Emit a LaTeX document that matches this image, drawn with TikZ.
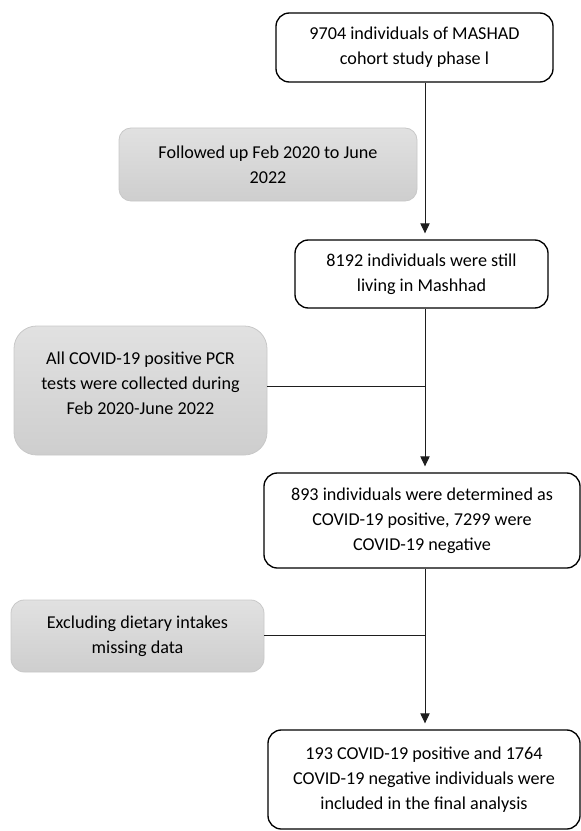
\documentclass[tikz,border=0pt]{standalone}
\usepackage{fontspec}
\setmainfont{Carlito}
\usetikzlibrary{arrows.meta}

\tikzset{every picture/.style={line width=0.75pt}}
\tikzset{
  whitebox/.style={draw=black, line width=1pt, fill=white, rounded corners=10, align=center, inner sep=0pt},
  greybox/.style={draw={rgb, 255:red, 200; green, 200; blue, 200}, line width=0.6pt, rounded corners=10, align=center, inner sep=0pt,
    top color={rgb, 255:red, 225; green, 225; blue, 225}, bottom color={rgb, 255:red, 206; green, 206; blue, 206}},
  flowarrow/.style={draw={rgb, 255:red, 30; green, 30; blue, 30}, line width=0.75pt, -{Triangle[width=7pt,length=7.5pt]}, shorten >=4.5pt},
  joinline/.style={draw={rgb, 255:red, 30; green, 30; blue, 30}, line width=0.75pt}
}

\begin{document}
\begin{tikzpicture}[x=0.75pt,y=0.75pt,yscale=-1,xscale=1]
\useasboundingbox (0,0) rectangle (581,831);
\fontsize{13.6}{18.75}\selectfont

%Main boxes
\node [whitebox, minimum width=277*0.75pt, minimum height=69*0.75pt] (cohort) at (414.5,47.5) {9704 individuals of MASHAD\\cohort study phase l};
\node [whitebox, minimum width=253*0.75pt, minimum height=68*0.75pt] (living) at (421.5,274) {8192 individuals were still\\living in Mashhad};
\node [whitebox, minimum width=316*0.75pt, minimum height=95*0.75pt] (tested) at (422,520.5) {893 individuals were determined as\\COVID-19 positive, 7299 were\\COVID-19 negative};
\node [whitebox, minimum width=312*0.75pt, minimum height=99*0.75pt] (final) at (424,779.5) {193 COVID-19 positive and 1764\\COVID-19 negative individuals were\\included in the final analysis};

%Side boxes
\node [greybox, rounded corners=9, minimum width=298*0.75pt, minimum height=73*0.75pt] (followup) at (268,164.5) {Followed up Feb 2020 to June\\2022};
\node [greybox, rounded corners=17, minimum width=253*0.75pt, minimum height=129*0.75pt] (pcr) at (140.5,390.5) {All COVID-19 positive PCR\\tests were collected during\\Feb 2020-June 2022\\[-7.5pt]};
\node [greybox, minimum width=253*0.75pt, minimum height=72*0.75pt] (exclude) at (137.5,636) {Excluding dietary intakes\\missing data};

%Column of the flow and the joins
\coordinate (col) at (425,0);
\coordinate (joinpcr) at (425,386);
\coordinate (joinexcl) at (425,635);

%Arrows
\draw [flowarrow] (cohort.south -| col) -- (living.north -| col);
\draw [flowarrow] (living.south -| col) -- (tested.north -| col);
\draw [flowarrow] (tested.south -| col) -- (final.north -| col);

%Side lines
\draw [joinline] (pcr.east |- joinpcr) -- (joinpcr);
\draw [joinline] (exclude.east |- joinexcl) -- (joinexcl);

\end{tikzpicture}
\end{document}
